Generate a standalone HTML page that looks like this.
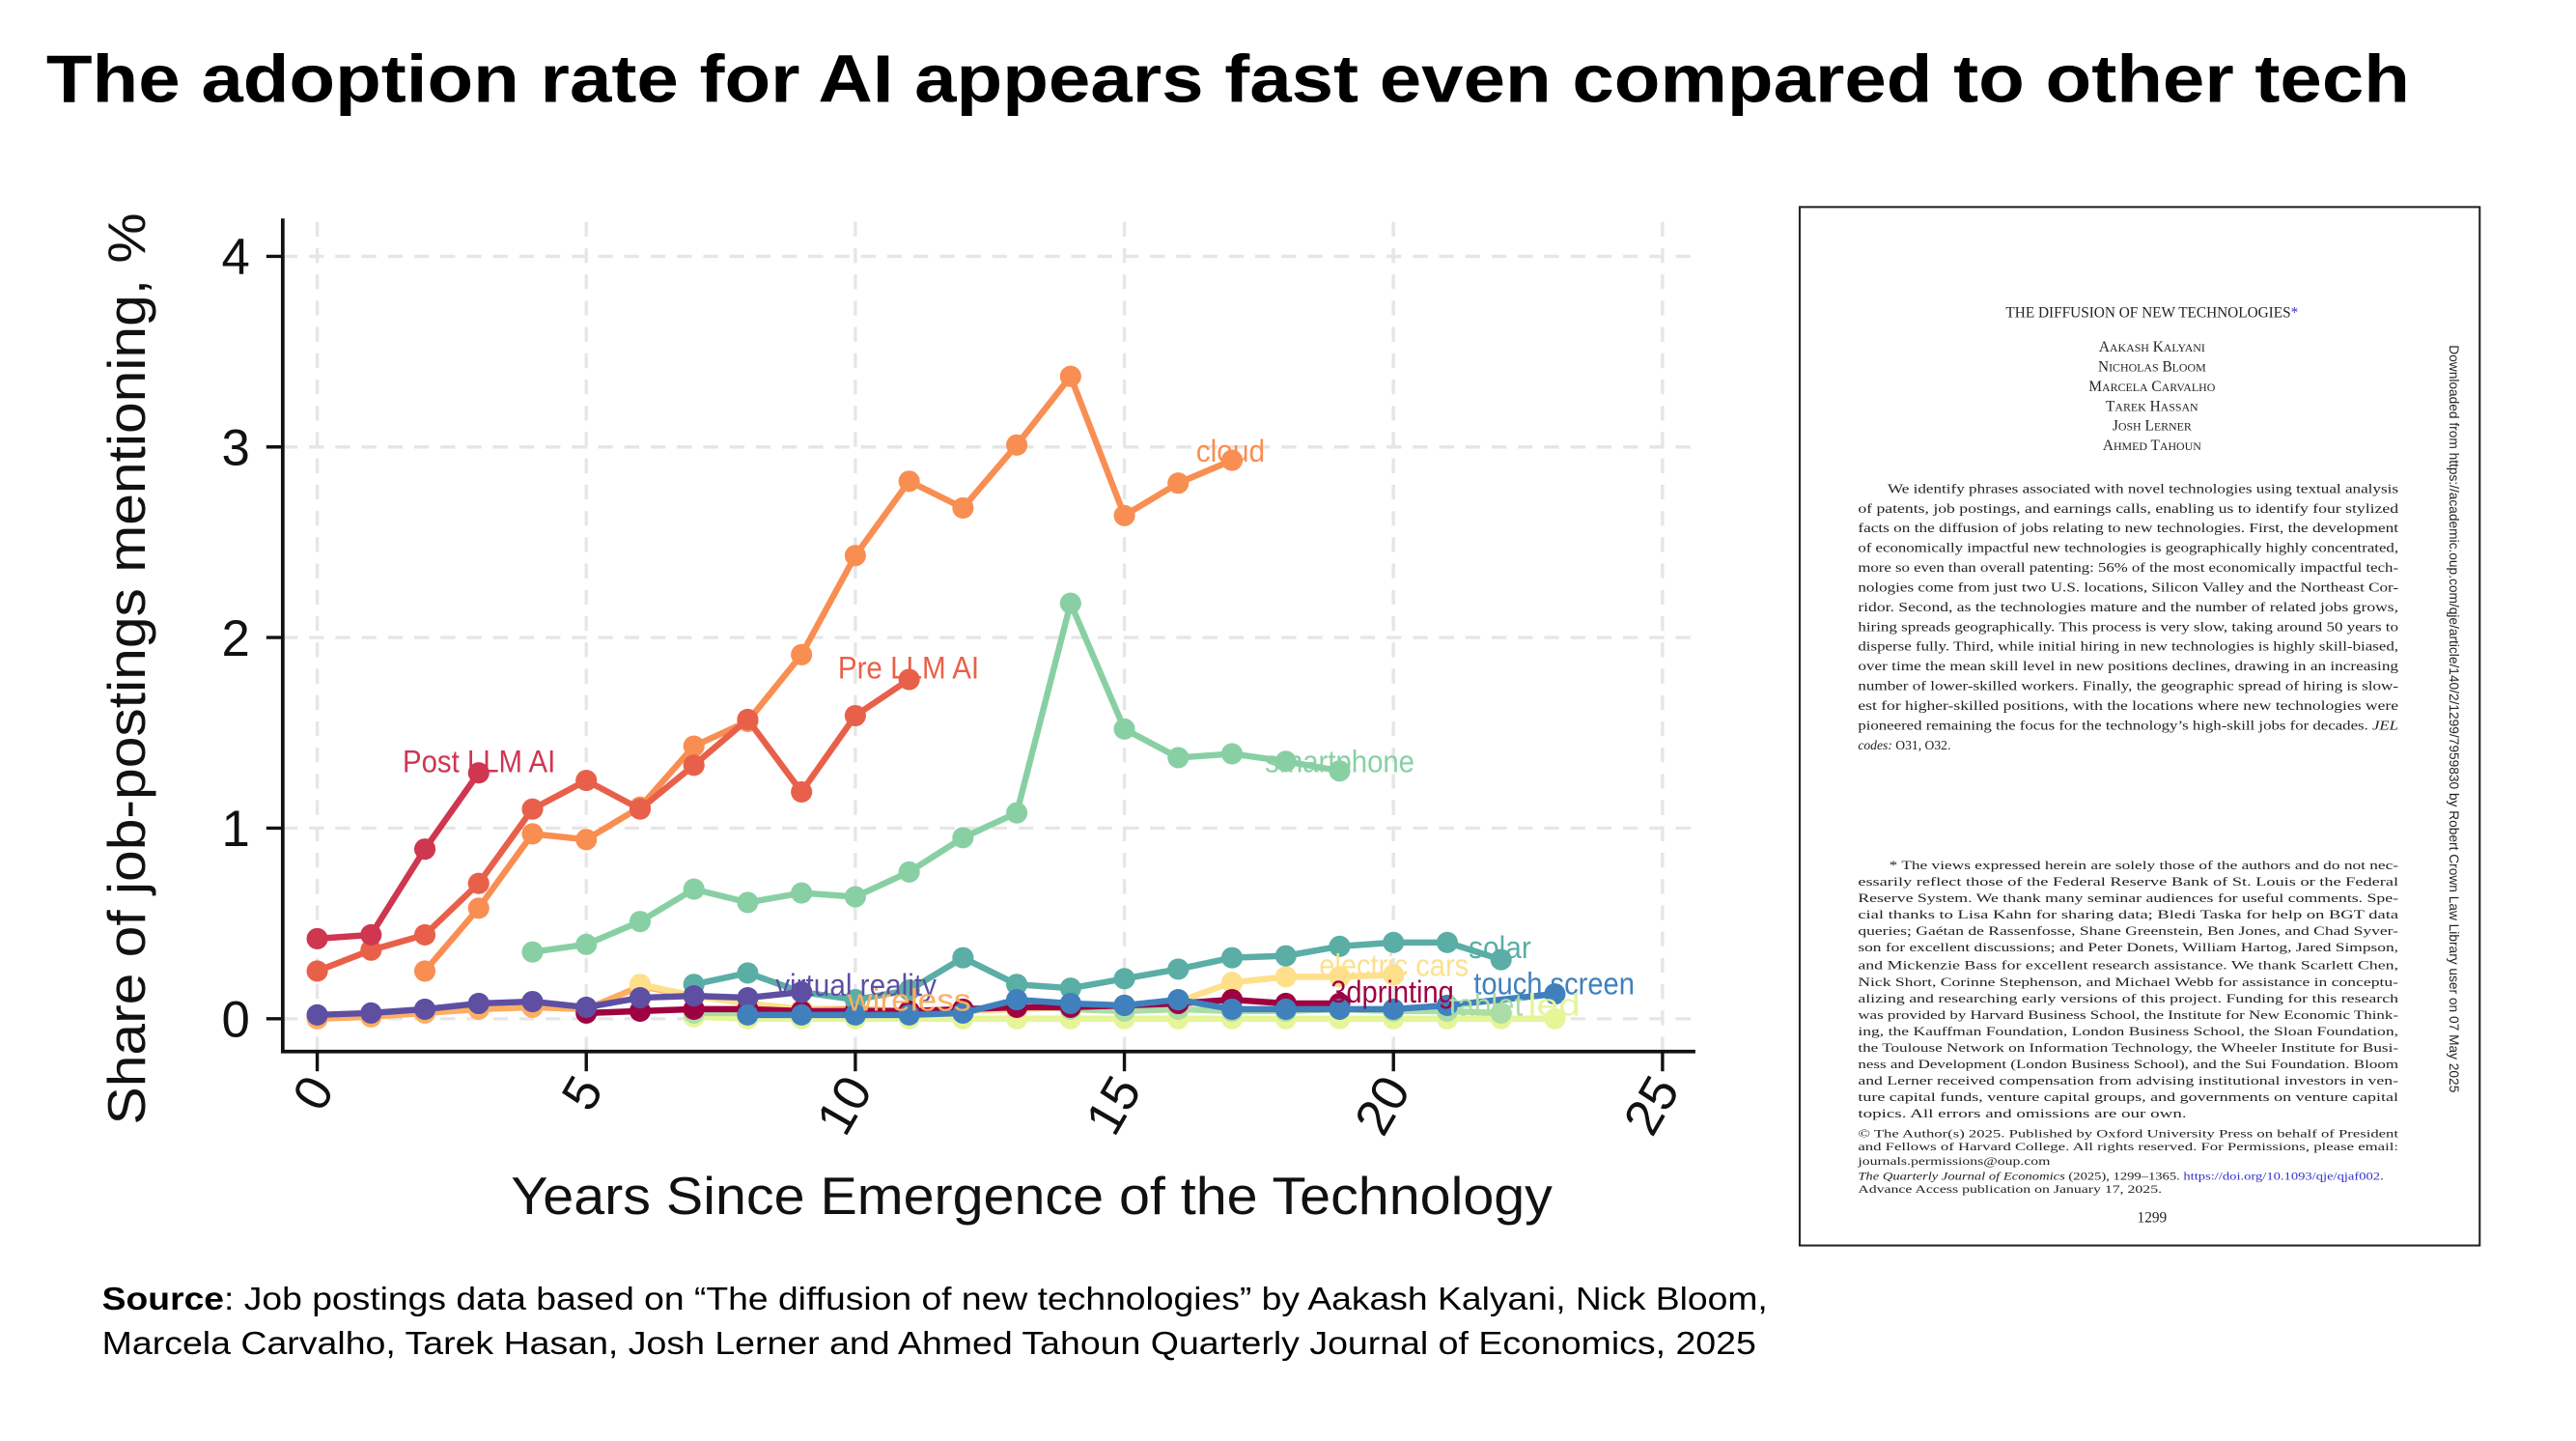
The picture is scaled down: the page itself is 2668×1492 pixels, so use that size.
<!DOCTYPE html>
<html><head><meta charset="utf-8"><style>
html,body{margin:0;padding:0;background:#fff;}
svg{display:block;}
text{font-family:"Liberation Sans",sans-serif;}
.paper text{font-family:"Liberation Serif",serif;fill:#222;}
</style></head><body>
<svg id="root" width="2668" height="1492" viewBox="0 0 1568 877" xmlns="http://www.w3.org/2000/svg">
<rect x="0" y="0" width="1568" height="877" fill="#fff"/>
<text x="28" y="62" font-size="41" font-weight="bold" fill="#000" textLength="1439" lengthAdjust="spacingAndGlyphs">The adoption rate for AI appears fast even compared to other tech</text>
<g id="chart"></g>
<text x="62" y="797" font-size="19.5" fill="#000" textLength="1014" lengthAdjust="spacingAndGlyphs"><tspan font-weight="bold">Source</tspan>: Job postings data based on “The diffusion of new technologies” by Aakash Kalyani, Nick Bloom,</text>
<text x="62" y="824" font-size="19.5" fill="#000" textLength="1007" lengthAdjust="spacingAndGlyphs">Marcela Carvalho, Tarek Hasan, Josh Lerner and Ahmed Tahoun Quarterly Journal of Economics, 2025</text>
<g class="paper">
<rect x="1095.5" y="126" width="414" height="632" fill="#fff" stroke="#222" stroke-width="1.2"/>
<text x="1310" y="193" font-size="9" text-anchor="middle">THE DIFFUSION OF NEW TECHNOLOGIES<tspan fill="#33c">*</tspan></text>
<g font-size="9" text-anchor="middle">
<text x="1310" y="214">A<tspan font-size="7">AKASH</tspan> K<tspan font-size="7">ALYANI</tspan></text><text x="1310" y="226">N<tspan font-size="7">ICHOLAS</tspan> B<tspan font-size="7">LOOM</tspan></text><text x="1310" y="238">M<tspan font-size="7">ARCELA</tspan> C<tspan font-size="7">ARVALHO</tspan></text><text x="1310" y="250">T<tspan font-size="7">AREK</tspan> H<tspan font-size="7">ASSAN</tspan></text><text x="1310" y="262">J<tspan font-size="7">OSH</tspan> L<tspan font-size="7">ERNER</tspan></text><text x="1310" y="274">A<tspan font-size="7">HMED</tspan> T<tspan font-size="7">AHOUN</tspan></text></g>
<g font-size="8">
<text x="1149" y="300" textLength="311" lengthAdjust="spacingAndGlyphs">We identify phrases associated with novel technologies using textual analysis</text>
<text x="1131" y="312" textLength="329" lengthAdjust="spacingAndGlyphs">of patents, job postings, and earnings calls, enabling us to identify four stylized</text>
<text x="1131" y="324" textLength="329" lengthAdjust="spacingAndGlyphs">facts on the diffusion of jobs relating to new technologies. First, the development</text>
<text x="1131" y="336" textLength="329" lengthAdjust="spacingAndGlyphs">of economically impactful new technologies is geographically highly concentrated,</text>
<text x="1131" y="348" textLength="329" lengthAdjust="spacingAndGlyphs">more so even than overall patenting: 56% of the most economically impactful tech-</text>
<text x="1131" y="360" textLength="329" lengthAdjust="spacingAndGlyphs">nologies come from just two U.S. locations, Silicon Valley and the Northeast Cor-</text>
<text x="1131" y="372" textLength="329" lengthAdjust="spacingAndGlyphs">ridor. Second, as the technologies mature and the number of related jobs grows,</text>
<text x="1131" y="384" textLength="329" lengthAdjust="spacingAndGlyphs">hiring spreads geographically. This process is very slow, taking around 50 years to</text>
<text x="1131" y="396" textLength="329" lengthAdjust="spacingAndGlyphs">disperse fully. Third, while initial hiring in new technologies is highly skill-biased,</text>
<text x="1131" y="408" textLength="329" lengthAdjust="spacingAndGlyphs">over time the mean skill level in new positions declines, drawing in an increasing</text>
<text x="1131" y="420" textLength="329" lengthAdjust="spacingAndGlyphs">number of lower-skilled workers. Finally, the geographic spread of hiring is slow-</text>
<text x="1131" y="432" textLength="329" lengthAdjust="spacingAndGlyphs">est for higher-skilled positions, with the locations where new technologies were</text>
<text x="1131" y="444" textLength="329" lengthAdjust="spacingAndGlyphs">pioneered remaining the focus for the technology’s high-skill jobs for decades. <tspan font-style="italic">JEL</tspan></text>
<text x="1131" y="456"><tspan font-style="italic">codes:</tspan> O31, O32.</text>
</g>
<g font-size="7.3">
<text x="1150" y="529" textLength="310" lengthAdjust="spacingAndGlyphs">* The views expressed herein are solely those of the authors and do not nec-</text>
<text x="1131" y="539" textLength="329" lengthAdjust="spacingAndGlyphs">essarily reflect those of the Federal Reserve Bank of St. Louis or the Federal</text>
<text x="1131" y="549" textLength="329" lengthAdjust="spacingAndGlyphs">Reserve System. We thank many seminar audiences for useful comments. Spe-</text>
<text x="1131" y="559" textLength="329" lengthAdjust="spacingAndGlyphs">cial thanks to Lisa Kahn for sharing data; Bledi Taska for help on BGT data</text>
<text x="1131" y="569" textLength="329" lengthAdjust="spacingAndGlyphs">queries; Gaétan de Rassenfosse, Shane Greenstein, Ben Jones, and Chad Syver-</text>
<text x="1131" y="579" textLength="329" lengthAdjust="spacingAndGlyphs">son for excellent discussions; and Peter Donets, William Hartog, Jared Simpson,</text>
<text x="1131" y="590" textLength="329" lengthAdjust="spacingAndGlyphs">and Mickenzie Bass for excellent research assistance. We thank Scarlett Chen,</text>
<text x="1131" y="600" textLength="329" lengthAdjust="spacingAndGlyphs">Nick Short, Corinne Stephenson, and Michael Webb for assistance in conceptu-</text>
<text x="1131" y="610" textLength="329" lengthAdjust="spacingAndGlyphs">alizing and researching early versions of this project. Funding for this research</text>
<text x="1131" y="620" textLength="329" lengthAdjust="spacingAndGlyphs">was provided by Harvard Business School, the Institute for New Economic Think-</text>
<text x="1131" y="630" textLength="329" lengthAdjust="spacingAndGlyphs">ing, the Kauffman Foundation, London Business School, the Sloan Foundation,</text>
<text x="1131" y="640" textLength="329" lengthAdjust="spacingAndGlyphs">the Toulouse Network on Information Technology, the Wheeler Institute for Busi-</text>
<text x="1131" y="650" textLength="329" lengthAdjust="spacingAndGlyphs">ness and Development (London Business School), and the Sui Foundation. Bloom</text>
<text x="1131" y="660" textLength="329" lengthAdjust="spacingAndGlyphs">and Lerner received compensation from advising institutional investors in ven-</text>
<text x="1131" y="670" textLength="329" lengthAdjust="spacingAndGlyphs">ture capital funds, venture capital groups, and governments on venture capital</text>
<text x="1131" y="680" textLength="200" lengthAdjust="spacingAndGlyphs">topics. All errors and omissions are our own.</text>
</g>
<g font-size="6.8">
<text x="1131" y="692" textLength="329" lengthAdjust="spacingAndGlyphs">© The Author(s) 2025. Published by Oxford University Press on behalf of President</text>
<text x="1131" y="700" textLength="329" lengthAdjust="spacingAndGlyphs">and Fellows of Harvard College. All rights reserved. For Permissions, please email:</text>
<text x="1131" y="709" fill="#33c" textLength="117" lengthAdjust="spacingAndGlyphs">journals.permissions@oup.com</text>
<text x="1131" y="718" textLength="320" lengthAdjust="spacingAndGlyphs"><tspan font-style="italic">The Quarterly Journal of Economics</tspan> (2025), 1299–1365. <tspan fill="#33c">https://doi.org/10.1093/qje/qjaf002</tspan>.</text>
<text x="1131" y="726" textLength="185" lengthAdjust="spacingAndGlyphs">Advance Access publication on January 17, 2025.</text>
</g>
<text x="1310" y="744" font-size="9" text-anchor="middle">1299</text>
<text transform="translate(1491,210) rotate(90)" font-size="8" fill="#555" textLength="455" lengthAdjust="spacingAndGlyphs" style="font-family:'Liberation Sans',sans-serif">Downloaded from https://academic.oup.com/qje/article/140/2/1299/7959830 by Robert Crown Law Library user on 07 May 2025</text>
</g>
</svg>
<script>
const xTicks=[0,5,10,15,20,25];
const yTicks=[0,1,2,3,4];
const postLLM=[[0,0.42],[1,0.44],[2,0.89],[3,1.29]];
const preLLM=[[0,0.25],[1,0.36],[2,0.44],[3,0.71],[4,1.10],[5,1.25],[6,1.10],[7,1.33],[8,1.57],[9,1.19],[10,1.59],[11,1.78]];
const cloud=[[2,0.25],[3,0.58],[4,0.97],[5,0.94],[6,1.11],[7,1.43],[8,1.56],[9,1.91],[10,2.43],[11,2.82],[12,2.68],[13,3.01],[14,3.37],[15,2.64],[16,2.81],[17,2.93]];
const smartphone=[[4,0.35],[5,0.39],[6,0.51],[7,0.68],[8,0.61],[9,0.66],[10,0.64],[11,0.77],[12,0.95],[13,1.08],[14,2.18],[15,1.52],[16,1.37],[17,1.39],[18,1.35],[19,1.30]];
const led=[[7,0.01],[8,0.0],[9,0.0],[10,0.0],[11,0.0],[12,0.0],[13,0.0],[14,0.0],[15,0.0],[16,0.0],[17,0.0],[18,0.0],[19,0.0],[20,0.0],[21,0.0],[22,0.0],[23,0.0]];
const tablet=[[7,0.03],[8,0.03],[9,0.03],[10,0.03],[11,0.03],[12,0.04],[13,0.07],[14,0.05],[15,0.04],[16,0.05],[17,0.04],[18,0.04],[19,0.05],[20,0.04],[21,0.04],[22,0.03]];
const wireless=[[0,0.0],[1,0.01],[2,0.03],[3,0.05],[4,0.06],[5,0.05],[6,0.17],[7,0.12],[8,0.08],[9,0.05],[10,0.05],[11,0.04],[12,0.04]];
const electric=[[6,0.18],[7,0.12],[8,0.08],[9,0.05],[10,0.04],[11,0.04],[12,0.04],[13,0.05],[14,0.06],[15,0.07],[16,0.09],[17,0.19],[18,0.22],[19,0.22],[20,0.23]];
const printing=[[5,0.03],[6,0.04],[7,0.05],[8,0.05],[9,0.04],[10,0.04],[11,0.04],[12,0.05],[13,0.06],[14,0.06],[15,0.07],[16,0.08],[17,0.10],[18,0.08],[19,0.08]];
const vr=[[0,0.02],[1,0.03],[2,0.05],[3,0.08],[4,0.09],[5,0.06],[6,0.11],[7,0.12],[8,0.11],[9,0.14]];
const solar=[[7,0.18],[8,0.24],[9,0.14],[10,0.10],[11,0.15],[12,0.32],[13,0.18],[14,0.16],[15,0.21],[16,0.26],[17,0.32],[18,0.33],[19,0.38],[20,0.40],[21,0.40],[22,0.31]];
const touch=[[8,0.02],[9,0.02],[10,0.02],[11,0.02],[12,0.03],[13,0.10],[14,0.08],[15,0.07],[16,0.10],[17,0.05],[18,0.05],[19,0.05],[20,0.05],[21,0.07],[23,0.13]];

const X=v=>193+32.76*v, Y=v=>620-116*v;
const NS='http://www.w3.org/2000/svg';
const g=document.getElementById('chart');
function mk(t,a,p){const e=document.createElementNS(NS,t);for(const k in a)e.setAttribute(k,a[k]);(p||g).appendChild(e);return e;}
xTicks.forEach(t=>{const l=mk('line',{x1:X(t),x2:X(t),y1:135,y2:640,stroke:'#e6e6e6','stroke-width':2,'stroke-dasharray':'9,7'});

});
yTicks.forEach(t=>{const l=mk('line',{x1:172,x2:1032,y1:Y(t),y2:Y(t),stroke:'#e6e6e6','stroke-width':2,'stroke-dasharray':'9,7'});

});
const series=[
['led-line',led,'#e6f598'],['tablet-line',tablet,'#abdda4'],['wireless-line',wireless,'#fdae61'],['electric-cars-line',electric,'#fee08b'],
['printing-3d-line',printing,'#9e0142'],['solar-line',solar,'#5aaea6'],['smartphone-line',smartphone,'#88d0a4'],['cloud-line',cloud,'#f98e52'],
['pre-llm-ai-line',preLLM,'#e8604a'],['post-llm-ai-line',postLLM,'#cf3650'],['virtual-reality-line',vr,'#5e4fa2'],['touch-screen-line',touch,'#3f80bd']];
series.forEach(([n,d,c])=>{
 const sg=mk('g',{});
 
 
 const p=mk('polyline',{points:d.map(q=>X(q[0])+','+Y(q[1])).join(' '),fill:'none',stroke:c,'stroke-width':3.8,'stroke-linejoin':'round'},sg);
 
 
 d.forEach(q=>{const m=mk('circle',{cx:X(q[0]),cy:Y(q[1]),r:6.5,fill:c},sg);
 
 });
});
const labels=[['Post LLM AI',245,470,'#cf3650',93],['Pre LLM AI',510,413,'#e8604a',86],['cloud',728,281,'#f98e52',42],['smartphone',770,470,'#88d0a4',91],
['solar',894,583,'#5aaea6',38],['electric cars',803,594,'#fee08b',91],['touch screen',897,605,'#3f80bd',98],['3dprinting',810,610,'#9e0142',75],
['tablet',882,618,'#abdda4',45],['led',930,618,'#e6f598',32],['virtual reality',472,606,'#5e4fa2',98],['wireless',516,615,'#fdae61',75]];
labels.forEach(([t,x,y,c,w])=>{const e=mk('text',{x:x,y:y,'font-size':19,fill:c,textLength:w,lengthAdjust:'spacingAndGlyphs'});e.textContent=t;

});
const ax=mk('path',{d:'M172,133 V640 H1032',fill:'none',stroke:'#111','stroke-width':2.2});


yTicks.forEach(t=>{mk('line',{x1:162,x2:172,y1:Y(t),y2:Y(t),stroke:'#111','stroke-width':2});
 const e=mk('text',{x:152,y:Y(t)+11,'font-size':31,'text-anchor':'end',fill:'#111'});e.textContent=t;
 
 });
xTicks.forEach(t=>{mk('line',{x1:X(t),x2:X(t),y1:640,y2:652,stroke:'#111','stroke-width':2});
 const e=mk('text',{x:0,y:0,'font-size':31,'text-anchor':'end',fill:'#111',transform:`translate(${X(t)+11},${663}) rotate(-60)`});e.textContent=t;
 
 });
const xt=mk('text',{x:628,y:739,'font-size':32,'text-anchor':'middle',fill:'#111',textLength:634,lengthAdjust:'spacingAndGlyphs'});xt.textContent='Years Since Emergence of the Technology';


const yt=mk('text',{x:0,y:0,'font-size':32,'text-anchor':'middle',fill:'#111',textLength:555,lengthAdjust:'spacingAndGlyphs',transform:'translate(88,407) rotate(-90)'});yt.textContent='Share of job-postings mentioning, %';


</script>
</body></html>
